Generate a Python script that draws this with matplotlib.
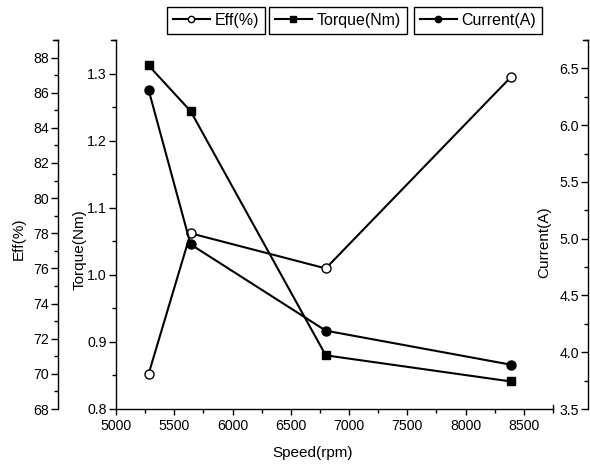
import matplotlib
matplotlib.use("Agg")
import matplotlib.pyplot as plt
from matplotlib.ticker import MultipleLocator
from matplotlib.lines import Line2D

plt.rcParams['font.family'] = ['Liberation Sans', 'DejaVu Sans']

speed = [5280, 5640, 6800, 8390]
eff = [70.0, 78.0, 76.0, 86.9]
torque = [1.312, 1.244, 0.880, 0.841]
current = [6.31, 4.95, 4.19, 3.89]

W, H = 590, 468
fig = plt.figure(figsize=(W / 100, H / 100), dpi=100)
L, R, B, T = 116, 553, 409, 40
span = R - L
ax = fig.add_axes([L / W, 1 - B / H, (R - L) / W, (B - T) / H])
ax_eff = ax.twinx()
ax_cur = ax.twinx()

lw = 1.5
ms = 6.5
tick_fs = 10.2
lab_fs = 11

# Torque (main axis)
ax.plot(speed, torque, '-', color='black', lw=lw, marker='s', ms=ms - 0.5,
        mfc='black', mec='black', label='Torque(Nm)', zorder=3)
ax.set_xlim(5000, 8750)
ax.set_ylim(0.8, 1.35)
ax.xaxis.set_major_locator(MultipleLocator(500))
ax.xaxis.set_minor_locator(MultipleLocator(250))
ax.set_yticks([0.8, 0.9, 1.0, 1.1, 1.2, 1.3])
ax.yaxis.set_minor_locator(MultipleLocator(0.05))
for s in ['top', 'right']:
    ax.spines[s].set_visible(False)

# Eff axis (outer left)
ax_eff.plot(speed, eff, '-', color='black', lw=lw, marker='o', ms=ms,
            mfc='white', mec='black', label='Eff(%)', zorder=3)
ax_eff.set_ylim(68, 89)
ax_eff.set_yticks(range(68, 89, 2))
ax_eff.yaxis.set_minor_locator(MultipleLocator(1))
ax_eff.spines['left'].set_visible(True)
ax_eff.spines['left'].set_position(('axes', (58 - L) / span))
ax_eff.yaxis.set_ticks_position('left')
ax_eff.yaxis.set_label_position('left')
for s in ['top', 'right', 'bottom']:
    ax_eff.spines[s].set_visible(False)

# Current axis (right, labels on inner side)
ax_cur.plot(speed, current, '-', color='black', lw=lw, marker='o', ms=ms,
            mfc='black', mec='black', label='Current(A)', zorder=3)
ax_cur.set_ylim(3.5, 6.75)
ax_cur.set_yticks([3.5, 4.0, 4.5, 5.0, 5.5, 6.0, 6.5])
ax_cur.yaxis.set_minor_locator(MultipleLocator(0.25))
ax_cur.spines['left'].set_visible(True)
ax_cur.spines['left'].set_position(('axes', (588 - L) / span))
ax_cur.yaxis.set_ticks_position('left')
ax_cur.yaxis.set_label_position('left')
for s in ['top', 'right', 'bottom']:
    ax_cur.spines[s].set_visible(False)

for a in (ax, ax_eff, ax_cur):
    a.tick_params(which='major', direction='out', length=5, width=1,
                  labelsize=tick_fs, pad=1.5)
    a.tick_params(which='minor', direction='out', length=3, width=1)
    for s in a.spines.values():
        s.set_linewidth(1)
ax.tick_params(axis='x', which='major', length=4, pad=3)
ax.tick_params(axis='x', which='minor', length=3)
ax.set_yticklabels(['0.8', '0.9', '1.0', '1.1', '1.2', '1.3'])
ax_cur.set_yticklabels(['3.5', '4.0', '4.5', '5.0', '5.5', '6.0', '6.5'])

ax.set_xlabel('Speed(rpm)', fontsize=lab_fs)
ax.set_ylabel('Torque(Nm)', fontsize=lab_fs)
ax_eff.set_ylabel('Eff(%)', fontsize=lab_fs)
ax_cur.set_ylabel('Current(A)', fontsize=lab_fs)
ax.xaxis.set_label_coords((313 - L) / span, (B - 446) / (B - T))
ax.yaxis.set_label_coords((87 - L) / span, (B - 250) / (B - T))
ax_eff.yaxis.set_label_coords((26 - L) / span, (B - 239) / (B - T))
ax_cur.yaxis.set_label_coords((551 - L) / span, (B - 242) / (B - T))

# Origin-style end brackets on the spines
for x0 in (58, 116, 588):
    fig.add_artist(Line2D([(x0 - 5) / W, x0 / W], [1 - T / H, 1 - T / H],
                          color='black', lw=1, transform=fig.transFigure))
fig.add_artist(Line2D([R / W, R / W], [1 - B / H, 1 - (B - 4) / H],
                      color='black', lw=1, transform=fig.transFigure))

# Three separate legend boxes
handles = [
    (ax_eff.get_lines()[0], 216),
    (ax.get_lines()[0], 338),
    (ax_cur.get_lines()[0], 478),
]
for h, xc in handles:
    leg = fig.legend([h], [h.get_label()], loc='center',
                     bbox_to_anchor=(xc / W, 1 - 20.5 / H),
                     frameon=True, fancybox=False, fontsize=11.5,
                     handlelength=2.3, handletextpad=0.3, borderpad=0.38,
                     borderaxespad=0, markerscale=0.7)
    fr = leg.get_frame()
    fr.set_edgecolor('black')
    fr.set_linewidth(1)
    fr.set_alpha(1)

fig.savefig('out.png', dpi=100)
